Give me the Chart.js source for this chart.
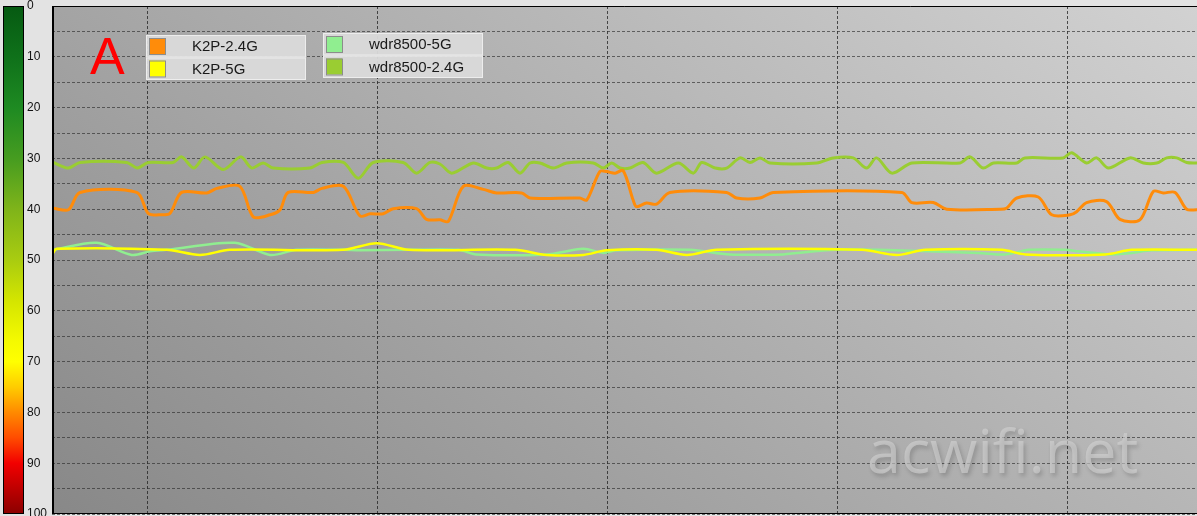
<!DOCTYPE html>
<html>
<head>
<meta charset="utf-8">
<script src="https://cdn.jsdelivr.net/npm/chart.js@4/dist/chart.umd.min.js"></script>
<style>
  html, body { margin: 0; padding: 0; background: #e3e3e3; overflow: hidden; }
  #wrap { position: relative; width: 1197px; height: 516px; }
</style>
</head>
<body>
<div id="wrap"><canvas id="c" width="1197" height="516"></canvas></div>
<script>
// ---------- data ----------
const seriesNames = ['K2P-2.4G', 'K2P-5G', 'wdr8500-5G', 'wdr8500-2.4G'];
const panelLetter = 'A';
const watermarkText = 'acwifi.net';
const yTickLabels = ['0', '10', '20', '30', '40', '50', '60', '70', '80', '90', '100'];
const xGridTimes = [25, 85, 145, 205, 265];
const xMax = 298.7;

const k2p24T = [0.3, 4.3, 7.3, 22.1, 25.1, 28.6, 30.8, 33.8, 40.4, 43.0, 49.0, 52.5, 56.9, 59.5, 61.6, 68.2, 70.4, 76.0, 80.3, 83.0, 86.4, 89.0, 95.1, 97.7, 101.2, 103.4, 107.3, 112.5, 116.0, 122.5, 124.7, 137.7, 139.5, 142.9, 144.7, 146.9, 149.0, 151.6, 152.5, 155.1, 157.7, 161.2, 176.0, 178.6, 184.7, 188.2, 221.7, 224.3, 229.9, 233.4, 247.3, 249.0, 251.7, 257.3, 260.8, 265.6, 267.3, 269.9, 275.1, 278.6, 283.8, 287.3, 289.9, 293.0, 296.0, 298.7];
const k2p24V = [39.8, 40.1, 36.7, 36.7, 40.8, 41.1, 40.8, 36.7, 36.8, 35.9, 35.5, 41.5, 41.1, 40.1, 36.7, 36.7, 35.9, 35.5, 41.3, 40.9, 40.9, 39.9, 39.9, 42.0, 42.1, 42.4, 35.5, 36.1, 36.8, 36.8, 37.8, 37.8, 38.2, 32.6, 32.6, 32.9, 32.4, 38.2, 39.5, 38.8, 39.0, 36.7, 36.7, 37.8, 37.8, 36.7, 36.7, 38.7, 38.7, 40.0, 40.0, 39.8, 37.8, 37.6, 41.1, 41.1, 40.5, 38.7, 38.5, 42.0, 42.1, 36.5, 36.8, 36.7, 40.0, 40.1];

const k2p5T = [0.3, 1.2, 29.9, 38.6, 46.4, 76.0, 84.7, 93.0, 120.8, 129.0, 138.6, 144.7, 157.7, 165.6, 173.4, 211.3, 220.4, 227.8, 247.8, 253.9, 274.8, 281.7, 298.7];
const k2p5V = [48.6, 47.8, 48.0, 49.0, 48.0, 48.0, 46.7, 48.0, 48.0, 49.0, 49.0, 48.1, 48.0, 49.0, 48.0, 48.0, 49.0, 48.0, 48.0, 48.9, 48.9, 48.0, 48.0];

const wdr5T = [0.3, 11.7, 20.8, 25.6, 29.9, 47.7, 56.9, 63.8, 76.0, 80.3, 93.0, 106.0, 110.7, 129.0, 138.6, 143.8, 147.3, 166.4, 176.9, 190.8, 194.3, 204.3, 215.7, 241.7, 248.7, 254.8, 264.3, 267.8, 276.5, 281.7, 286.9, 298.7];
const wdr5V = [48.0, 46.6, 49.0, 48.3, 48.0, 46.6, 49.0, 48.0, 48.0, 48.1, 48.0, 48.0, 48.9, 48.9, 47.8, 48.6, 48.1, 48.0, 48.9, 48.9, 48.6, 48.0, 48.0, 48.6, 48.9, 48.0, 48.0, 48.3, 48.9, 48.6, 48.1, 48.0];

const wdr24T = [0.3, 4.3, 7.3, 19.5, 22.3, 25.1, 31.6, 33.8, 37.0, 39.9, 44.7, 49.2, 52.1, 55.1, 57.7, 67.3, 70.4, 76.0, 79.9, 83.8, 91.6, 95.1, 98.6, 101.2, 104.3, 109.9, 113.4, 116.0, 119.0, 122.1, 124.7, 127.3, 130.8, 134.3, 141.2, 143.8, 146.0, 148.2, 150.8, 154.2, 157.7, 163.4, 167.3, 169.5, 173.0, 176.0, 179.5, 182.1, 184.7, 187.3, 199.5, 203.8, 209.0, 212.5, 215.1, 219.1, 224.3, 236.9, 239.5, 242.9, 245.6, 251.7, 253.8, 263.8, 266.0, 269.9, 272.5, 275.6, 281.2, 284.7, 288.2, 290.8, 293.4, 296.0, 298.7];
const wdr24V = [30.8, 31.9, 30.8, 30.8, 31.9, 30.8, 30.8, 29.7, 31.9, 29.7, 32.2, 29.7, 31.9, 30.9, 31.9, 31.9, 30.8, 30.8, 33.9, 30.8, 30.8, 32.9, 30.8, 31.1, 32.9, 30.9, 31.9, 31.9, 30.8, 32.9, 30.9, 30.9, 31.9, 30.9, 30.9, 31.9, 30.9, 31.9, 31.9, 30.8, 32.9, 30.9, 32.9, 30.8, 31.9, 31.9, 29.9, 30.8, 29.9, 30.9, 30.9, 29.9, 29.9, 31.9, 29.9, 32.9, 30.9, 30.9, 29.7, 31.9, 30.9, 30.9, 29.9, 29.9, 28.9, 30.9, 29.9, 31.9, 29.9, 30.9, 30.9, 29.9, 29.9, 30.8, 30.9];

// ---------- styles ----------
const seriesColors = ['#ff8c0a', '#ffff00', '#90ee90', '#9acd32'];
const seriesWidths = [3, 2.5, 2.5, 3];

function pts(ts, vs) { return ts.map((t, i) => ({ x: t, y: vs[i] })); }
const seriesData = [pts(k2p24T, k2p24V), pts(k2p5T, k2p5V), pts(wdr5T, wdr5V), pts(wdr24T, wdr24V)];

const FONT = '"Liberation Sans", Arial, sans-serif';

const bgPlugin = {
  id: 'bgPlugin',
  beforeDraw(chart) {
    const { ctx, chartArea: a } = chart;
    ctx.save();
    ctx.fillStyle = '#e3e3e3';
    ctx.fillRect(0, 0, chart.width, chart.height);
    const g = ctx.createLinearGradient(a.left, a.bottom, a.left + 648, a.bottom - 877);
    g.addColorStop(0, '#888888');
    g.addColorStop(1, '#d2d2d2');
    ctx.fillStyle = g;
    ctx.fillRect(a.left, a.top, a.right - a.left, a.bottom - a.top);
    // colour bar
    const ys = chart.scales.y;
    const top = ys.getPixelForValue(0), bot = ys.getPixelForValue(100);
    const cg = ctx.createLinearGradient(0, top, 0, bot);
    const stops = [[0, '#065a12'], [0.1, '#0f711a'], [0.2, '#1e8a22'], [0.3, '#469c20'], [0.4, '#7fb41a'],
                   [0.5, '#a9cc10'], [0.58, '#d4e500'], [0.66, '#f5fa00'], [0.7, '#ffff00'], [0.75, '#ffcc00'],
                   [0.8, '#ff8a00'], [0.85, '#ff4c00'], [0.9, '#f20000'], [1, '#8a0000']];
    stops.forEach(s => cg.addColorStop(s[0], s[1]));
    ctx.fillStyle = cg;
    ctx.fillRect(3, top, 20, bot - top);
    ctx.strokeStyle = '#000';
    ctx.lineWidth = 1;
    ctx.strokeRect(3.5, top + 0.5, 20, bot - top - 1);
    ctx.restore();
  }
};

const overlayPlugin = {
  id: 'overlayPlugin',
  afterDatasetsDraw(chart) {
    const { ctx, chartArea: a } = chart;
    ctx.save();
    // watermark
    ctx.font = '61px "Open Sans", "DejaVu Sans", sans-serif';
    ctx.textBaseline = 'alphabetic';
    ctx.textAlign = 'left';
    ctx.shadowColor = 'rgba(0,0,0,0.3)';
    ctx.shadowOffsetX = 2;
    ctx.shadowOffsetY = 3;
    ctx.shadowBlur = 4;
    ctx.fillStyle = 'rgba(212,212,212,0.6)';
    ctx.fillText(watermarkText, 867, 473);
    ctx.shadowColor = 'transparent';
    // frame
    ctx.strokeStyle = '#000';
    ctx.lineWidth = 1;
    ctx.beginPath();
    ctx.moveTo(a.left, a.top + 0.5); ctx.lineTo(a.right, a.top + 0.5);
    ctx.moveTo(a.left, a.bottom - 0.5); ctx.lineTo(a.right, a.bottom - 0.5);
    ctx.stroke();
    ctx.lineWidth = 2;
    ctx.beginPath();
    ctx.moveTo(a.left + 1, a.top); ctx.lineTo(a.left + 1, a.bottom);
    ctx.stroke();
    // panel letter
    ctx.fillStyle = '#ff0000';
    ctx.font = '52px ' + FONT;
    ctx.fillText(panelLetter, 90, 74);
    // legend
    const boxes = [{ x: 146, y: 35, idx: [0, 1] }, { x: 323, y: 33, idx: [2, 3] }];
    const rw = 160, rh = 22.5;
    ctx.font = '15px ' + FONT;
    ctx.textBaseline = 'middle';
    boxes.forEach(b => {
      b.idx.forEach((di, r) => {
        const ry = b.y + r * rh;
        ctx.fillStyle = 'rgba(218,218,218,0.95)';
        ctx.fillRect(b.x, ry, rw, rh);
        ctx.strokeStyle = '#ededed';
        ctx.lineWidth = 1;
        ctx.strokeRect(b.x + 0.5, ry + 0.5, rw - 1, rh - 1);
        ctx.fillStyle = seriesColors[di];
        ctx.fillRect(b.x + 3, ry + 3, 16, 16);
        ctx.strokeStyle = '#8c8c8c';
        ctx.strokeRect(b.x + 3.5, ry + 3.5, 16, 16);
        ctx.fillStyle = '#1a1a1a';
        ctx.fillText(chart.data.datasets[di].label, b.x + 46, ry + rh / 2 + 1);
      });
    });
    ctx.restore();
  }
};

new Chart(document.getElementById('c'), {
  type: 'line',
  data: {
    datasets: seriesNames.map((n, i) => ({
      label: n,
      data: seriesData[i],
      borderColor: seriesColors[i],
      backgroundColor: seriesColors[i],
      borderWidth: seriesWidths[i],
      pointRadius: 0,
      tension: 0.3,
      fill: false
    }))
  },
  options: {
    responsive: false,
    animation: false,
    events: [],
    layout: { padding: { left: 27, top: 6, right: 0, bottom: 2 } },
    plugins: { legend: { display: false }, tooltip: { enabled: false } },
    scales: {
      x: {
        type: 'linear', min: 0, max: xMax,
        afterBuildTicks(s) { s.ticks = xGridTimes.map(v => ({ value: v })); },
        afterFit(s) { s.height = 0; s.paddingLeft = 0; s.paddingRight = 0; },
        ticks: { display: false },
        border: { display: false, dash: [3, 2] },
        grid: { color: 'rgba(30,30,30,0.75)', lineWidth: 1, drawTicks: false }
      },
      y: {
        type: 'linear', min: 0, max: 100, reverse: true,
        afterBuildTicks(s) { const t = []; for (let v = 0; v <= 100; v += 5) t.push({ value: v }); s.ticks = t; },
        afterFit(s) { s.width = 25; s.paddingTop = 0; s.paddingBottom = 0; },
        ticks: {
          crossAlign: 'far',
          padding: 0,
          font: { family: FONT, size: 12 },
          color: '#111',
          callback: v => (v % 10 === 0 ? yTickLabels[v / 10] : '')
        },
        border: { display: false, dash: [3, 2] },
        grid: { color: 'rgba(45,45,45,0.65)', lineWidth: 1, drawTicks: false }
      }
    }
  },
  plugins: [bgPlugin, overlayPlugin]
});
</script>
</body>
</html>
